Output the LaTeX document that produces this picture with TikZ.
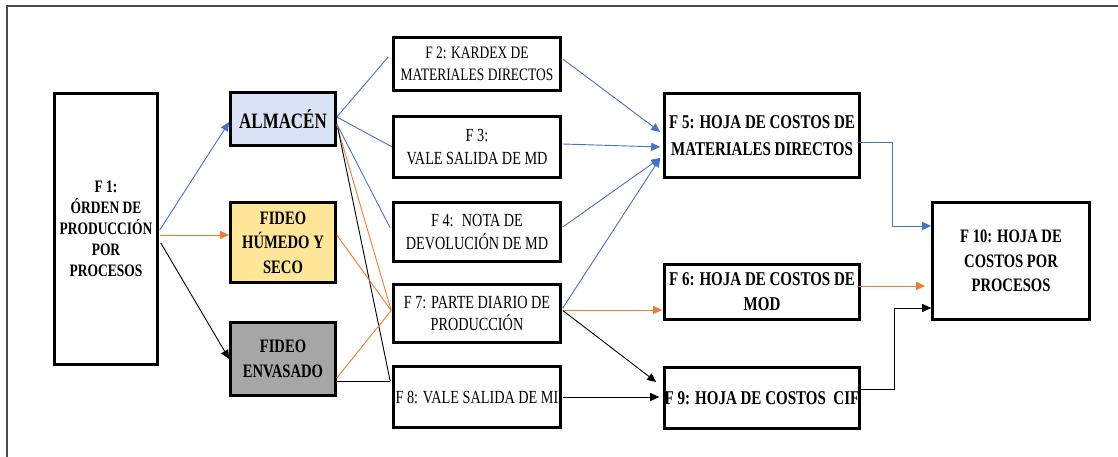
\documentclass[tikz,border=0pt]{standalone}
\usepackage{fontspec}
\setmainfont{Liberation Serif}[FakeStretch=0.77]
\usetikzlibrary{arrows.meta,calc}
\newcommand\myfs[2]{\fontsize{#1}{#2}\selectfont}
\definecolor{cblue}{HTML}{4472C4}
\definecolor{corange}{HTML}{ED7D31}
\definecolor{calm}{HTML}{DAE3F3}
\definecolor{chum}{HTML}{FFE699}
\definecolor{cenv}{HTML}{A6A6A6}
\begin{document}
\begin{tikzpicture}[x=1pt,y=-1pt,
  box/.style={draw=black, line width=2.6pt, inner sep=0pt, align=center},
  conn/.style={line width=0.9pt},
  arr/.style={conn, -{Triangle[length=9pt,width=8pt]}},
]
\useasboundingbox (0,0) rectangle (1118,457);
\draw[line width=1.3pt, black!70] (1118,6) -- (7,6) -- (7,457);

% nodes
\node[box, minimum width=103pt, minimum height=271pt, font=\bfseries\myfs{17.5}{21}] (F1) at (106,229) {F 1:\\ ÓRDEN DE\\ PRODUCCIÓN\\ POR\\ PROCESOS};
\node[box, fill=calm, minimum width=105pt, minimum height=53pt, font=\bfseries\myfs{22}{26}] (ALM) at (283,119) {ALMACÉN};
\node[box, fill=chum, minimum width=105pt, minimum height=80pt, font=\bfseries\myfs{19}{24.5}] (HUM) at (283,242.5) {FIDEO\\ HÚMEDO Y\\ SECO};
\node[box, fill=cenv, minimum width=105pt, minimum height=73pt, font=\bfseries\myfs{19}{25}] (ENV) at (283,359) {FIDEO\\ ENVASADO};

\node[box, minimum width=167pt, minimum height=53pt, font=\myfs{17.5}{22}] (F2) at (477,64) {F 2: KARDEX DE\\ MATERIALES DIRECTOS};
\node[box, minimum width=167pt, minimum height=61pt, font=\myfs{18.5}{23}] (F3) at (477,147) {F 3:\\ VALE SALIDA DE MD};
\node[box, minimum width=167pt, minimum height=59pt, font=\myfs{18.5}{23}] (F4) at (477,232) {F 4:~ NOTA DE\\ DEVOLUCIÓN DE MD};
\node[box, minimum width=167pt, minimum height=58pt, font=\myfs{18.5}{22.5}] (F7) at (477,313.5) {F 7: PARTE DIARIO DE\\ PRODUCCIÓN};
\node[box, minimum width=167pt, minimum height=61pt, font=\myfs{18.5}{23}] (F8) at (477,397) {F 8: VALE SALIDA DE MI};

\node[box, minimum width=195pt, minimum height=84pt, font=\bfseries\myfs{19.5}{27}] (F5) at (762,135.5) {F 5: HOJA DE COSTOS DE\\ MATERIALES DIRECTOS};
\node[box, minimum width=195pt, minimum height=55pt, font=\bfseries\myfs{19.5}{25}] (F6) at (762,292) {F 6: HOJA DE COSTOS DE\\ MOD};
\node[box, minimum width=195pt, minimum height=61pt, font=\bfseries\myfs{19.5}{25}] (F9) at (762,398) {F 9: HOJA DE COSTOS~ CIF};
\node[box, minimum width=157pt, minimum height=117pt, font=\bfseries\myfs{19}{24.7}] (F10) at (1011,261) {F 10: HOJA DE\\ COSTOS POR\\ PROCESOS};

% helper coordinates
\coordinate (F7in) at ($(F7.west)+(-1,-3)$);
\coordinate (F8in) at ($(F8.west)+(-2,-16)$);
\coordinate (F5in) at ($(F5.west)+(-3,22.5)$);

% F1 outputs
\draw[arr, cblue] ($(F1.east)+(1,1)$) -- ($(ALM.west)+(0,3)$);
\draw[arr, corange] ($(F1.east)+(1,6)$) -- ($(HUM.west)+(0,-7.5)$);
\draw[arr, black] ($(F1.east)+(2,14)$) -- (ENV.west);

% ALMACEN outputs
\draw[conn, cblue] ($(ALM.east)+(0,-2)$) -- ($(F2.west)+(-4,-7)$);
\draw[conn, cblue] ($(ALM.east)+(0,-2)$) -- (F3.west);
\draw[conn, cblue] ($(ALM.east)+(0,5)$) -- ($(F4.west)+(-2,-4)$);
\draw[conn, corange] ($(ALM.east)+(0,6)$) -- (F7in);
\draw[conn, black] ($(ALM.east)+(1,9)$) -- (F8in);

% fideo outputs
\draw[conn, corange] ($(HUM.east)+(0,-7.5)$) -- (F7in);
\draw[conn, corange] ($(ENV.east)+(0,19)$) -- (F7in);
\draw[conn, black] ($(ENV.east)+(0,22)$) -- (F8in);

% to F5
\draw[arr, cblue] ($(F2.east)+(1,-5)$) -- ($(F5.west)+(-3,-3.5)$);
\draw[arr, cblue] ($(F3.east)+(1,-3)$) -- ($(F5.west)+(-3,11.5)$);
\draw[arr, cblue] ($(F4.east)+(1,-5)$) -- (F5in);
\draw[arr, cblue] ($(F7.east)+(1,-5.5)$) -- (F5in);

% F7 to F6, F9
\draw[arr, corange] ($(F7.east)+(1,-3.5)$) -- ($(F6.west)+(-1,18)$);
\draw[arr, black] ($(F7.east)+(1,-3)$) -- ($(F9.west)+(-7,-16)$);
\draw[arr, black] ($(F8.east)+(1,0)$) -- ($(F9.west)+(-4,-1)$);

% to F10
\draw[arr, cblue] ($(F5.east)+(-4,6.5)$) -- ++(36,0) |- ($(F10.west)+(0,-35)$);
\draw[arr, corange] ($(F6.east)+(-4,-6)$) -- ($(F10.west)+(-6,25)$);
\draw[arr, black] ($(F9.east)+(0,-9)$) -- ++(34,0) |- ($(F10.west)+(0,47)$);
\end{tikzpicture}
\end{document}
